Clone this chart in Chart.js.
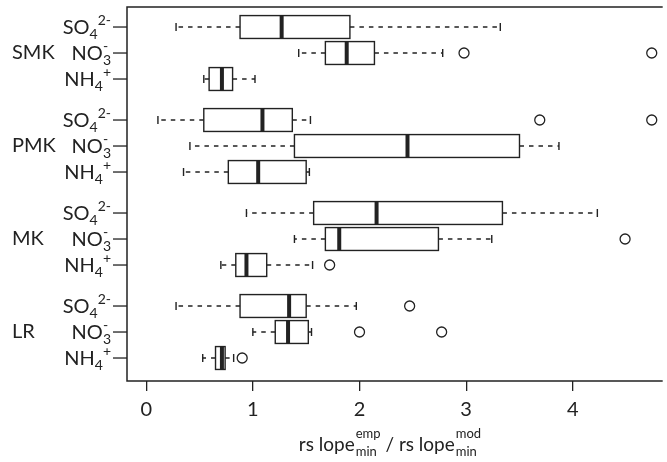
<!DOCTYPE html>
<html>
<head>
<meta charset="utf-8">
<script src="https://cdn.jsdelivr.net/npm/chart.js@4/dist/chart.umd.min.js"></script>
<style>
  body { margin: 0; background: #fff; }
</style>
</head>
<body>
<canvas id="chart" width="667" height="462"></canvas>
<script>
// groups and ions, rows go SMK SO4, SMK NO3, SMK NH4, PMK SO4 ...
const groups = ['SMK', 'PMK', 'MK', 'LR'];
const ions = [
  { base: 'SO', sub: '4', sup: '2-', stack: false },
  { base: 'NO', sub: '3', sup: '-', stack: true },
  { base: 'NH', sub: '4', sup: '+', stack: false }
];

// box stats per row
const whiskerLow  = [0.28, 1.43, 0.54, 0.11, 0.41, 0.35, 0.94, 1.39, 0.70, 0.28, 1.00, 0.53];
const q1          = [0.88, 1.68, 0.59, 0.54, 1.39, 0.77, 1.57, 1.68, 0.84, 0.88, 1.21, 0.65];
const median      = [1.27, 1.88, 0.71, 1.09, 2.45, 1.05, 2.16, 1.81, 0.94, 1.34, 1.33, 0.71];
const q3          = [1.91, 2.14, 0.81, 1.37, 3.50, 1.50, 3.34, 2.74, 1.13, 1.50, 1.52, 0.74];
const whiskerHigh = [3.32, 2.78, 1.02, 1.54, 3.87, 1.53, 4.23, 3.24, 1.56, 1.97, 1.55, 0.82];
const outliers    = [[], [2.98, 4.74], [], [3.69, 4.74], [], [], [], [4.49], [1.72], [2.47], [2.00, 2.77], [0.90]];

const xTicks = [0, 1, 2, 3, 4];

const FONT = 'Lato, "Open Sans", sans-serif';
const INK = '#222';
const groupStep = 3.577;   // rows between the starts of two groups
const boxHalf = 0.44;      // half box height, in row units

function rowPos(k) {
  return Math.floor(k / 3) * groupStep + (k % 3);
}

const outlierPoints = [];
outliers.forEach((list, k) => {
  list.forEach(v => outlierPoints.push({ x: v, y: rowPos(k) }));
});

function drawFormula(ctx, ion, xRight, y) {
  ctx.font = '20px ' + FONT;
  const wb = ctx.measureText(ion.base).width;
  ctx.font = '14px ' + FONT;
  const ws = ctx.measureText(ion.sub).width;
  const wp = ctx.measureText(ion.sup).width;
  const total = wb + (ion.stack ? Math.max(ws, wp) : ws + wp);
  const x = xRight - total;
  const base = y + 7;
  ctx.textAlign = 'left';
  ctx.textBaseline = 'alphabetic';
  ctx.font = '20px ' + FONT;
  ctx.fillText(ion.base, x, base);
  ctx.font = '14px ' + FONT;
  ctx.fillText(ion.sub, x + wb, base + 5);
  ctx.fillText(ion.sup, ion.stack ? x + wb : x + wb + ws, base - 9);
}

function drawTitle(ctx, cx, base) {
  const pieces = [
    { t: 'rs lope', size: 19 },
    { sup: 'emp', sub: 'min' },
    { t: ' / ', size: 19 },
    { t: 'rs lope', size: 19 },
    { sup: 'mod', sub: 'min' }
  ];
  const widths = pieces.map(p => {
    if (p.t) { ctx.font = p.size + 'px ' + FONT; return ctx.measureText(p.t).width; }
    ctx.font = '13px ' + FONT;
    return Math.max(ctx.measureText(p.sup).width, ctx.measureText(p.sub).width) + 1;
  });
  let x = cx - widths.reduce((a, b) => a + b, 0) / 2;
  ctx.textAlign = 'left';
  ctx.textBaseline = 'alphabetic';
  pieces.forEach((p, i) => {
    if (p.t) {
      ctx.font = p.size + 'px ' + FONT;
      ctx.fillText(p.t, x, base);
    } else {
      ctx.font = '13px ' + FONT;
      ctx.fillText(p.sup, x + 1, base - 13);
      ctx.fillText(p.sub, x + 1, base + 5);
    }
    x += widths[i];
  });
}

const boxPlugin = {
  id: 'boxes',
  beforeDatasetsDraw(chart) {
    const { ctx, scales: { x, y } } = chart;
    ctx.save();
    ctx.strokeStyle = INK;
    for (let k = 0; k < median.length; k++) {
      const py = y.getPixelForValue(rowPos(k));
      const top = y.getPixelForValue(rowPos(k) - boxHalf);
      const bot = y.getPixelForValue(rowPos(k) + boxHalf);
      const xl = x.getPixelForValue(q1[k]);
      const xr = x.getPixelForValue(q3[k]);
      const wl = x.getPixelForValue(whiskerLow[k]);
      const wh = x.getPixelForValue(whiskerHigh[k]);
      // whiskers
      ctx.lineWidth = 1.4;
      ctx.setLineDash([4.5, 5]);
      ctx.beginPath();
      ctx.moveTo(xl, py); ctx.lineTo(wl, py);
      ctx.moveTo(xr, py); ctx.lineTo(wh, py);
      ctx.stroke();
      ctx.setLineDash([]);
      ctx.beginPath();
      ctx.moveTo(wl, py - 4); ctx.lineTo(wl, py + 4);
      ctx.moveTo(wh, py - 4); ctx.lineTo(wh, py + 4);
      ctx.stroke();
      // box
      ctx.lineWidth = 1.4;
      ctx.strokeRect(xl, top, xr - xl, bot - top);
      // median
      const xm = x.getPixelForValue(median[k]);
      ctx.lineWidth = 4;
      ctx.beginPath();
      ctx.moveTo(xm, top); ctx.lineTo(xm, bot);
      ctx.stroke();
    }
    ctx.restore();
  },
  afterDraw(chart) {
    const { ctx, chartArea: a, scales: { y } } = chart;
    ctx.save();
    ctx.strokeStyle = INK;
    ctx.fillStyle = INK;
    // frame: left, top, bottom (right side runs off the picture)
    ctx.lineWidth = 1.5;
    ctx.beginPath();
    ctx.moveTo(a.right + 2, a.top);
    ctx.lineTo(a.left, a.top);
    ctx.lineTo(a.left, a.bottom);
    ctx.lineTo(a.right + 2, a.bottom);
    ctx.stroke();
    // row labels and their tick marks
    for (let k = 0; k < median.length; k++) {
      const py = y.getPixelForValue(rowPos(k));
      ctx.lineWidth = 1.3;
      ctx.beginPath();
      ctx.moveTo(a.left - 14, py); ctx.lineTo(a.left, py);
      ctx.stroke();
      drawFormula(ctx, ions[k % 3], a.left - 16, py);
    }
    groups.forEach((g, i) => {
      const py = y.getPixelForValue(rowPos(i * 3 + 1));
      ctx.font = '20px ' + FONT;
      ctx.textAlign = 'left';
      ctx.textBaseline = 'middle';
      ctx.fillText(g, 12, py);
    });
    drawTitle(ctx, 390, 451);
    ctx.restore();
  }
};

new Chart(document.getElementById('chart'), {
  type: 'scatter',
  data: {
    datasets: [{
      data: outlierPoints,
      pointRadius: 5,
      pointBorderWidth: 1.3,
      pointBackgroundColor: '#fff',
      pointBorderColor: INK
    }]
  },
  options: {
    responsive: false,
    animation: false,
    layout: { padding: { left: 127, right: 0, top: 7, bottom: 33 } },
    plugins: { legend: { display: false }, tooltip: { enabled: false } },
    scales: {
      x: {
        type: 'linear',
        min: -0.18,
        max: 4.824,
        afterBuildTicks: s => { s.ticks = xTicks.map(v => ({ value: v })); },
        grid: { drawOnChartArea: false, drawTicks: true, tickLength: 10, color: INK, lineWidth: 1.3 },
        border: { display: false },
        ticks: { color: INK, padding: 7, font: { family: FONT, size: 20 } }
      },
      y: {
        type: 'linear',
        display: false,
        reverse: true,
        min: -0.77,
        max: 13.615
      }
    }
  },
  plugins: [boxPlugin]
});
</script>
</body>
</html>
